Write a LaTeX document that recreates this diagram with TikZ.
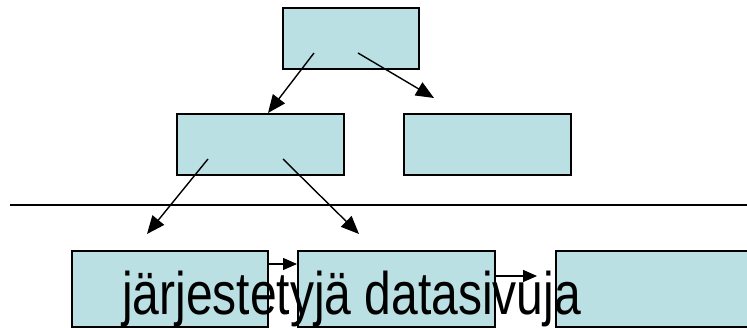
\documentclass[tikz,border=0pt]{standalone}
\usepackage{fontspec}
\usepackage{graphicx}
\setmainfont{Liberation Sans}
\usetikzlibrary{arrows.meta}
\definecolor{boxfill}{RGB}{187,224,227}
\tikzset{
  pagebox/.style={draw=black, fill=boxfill, line width=1.5pt, inner sep=0pt},
  link/.style={line width=1.4pt, -{Triangle[length=18pt,width=15pt]}},
  smalllink/.style={line width=1.4pt, -{Triangle[length=14pt,width=12pt]}}
}
\begin{document}
\begin{tikzpicture}[x=1pt,y=-1pt]
\useasboundingbox (0,0) rectangle (747,328);
% boxes
\node[pagebox, minimum width=136pt, minimum height=61pt] (top) at (351,38.5) {};
\node[pagebox, minimum width=167pt, minimum height=61pt] (ml) at (260.5,144.5) {};
\node[pagebox, minimum width=167pt, minimum height=61pt] (mr) at (487.5,144.5) {};
\node[pagebox, minimum width=196pt, minimum height=76pt] (b1) at (170,289) {};
\node[pagebox, minimum width=197pt, minimum height=76pt] (b2) at (396.5,289) {};
\node[pagebox, minimum width=200pt, minimum height=76pt] (b3) at (656,289) {};
% separator line
\coordinate (lineL) at (10,205);
\coordinate (lineR) at (747,205);
\draw[line width=1.2pt] (lineL) -- (lineR);
% arrow endpoints
\coordinate (s1) at (314,53);
\coordinate (e1) at (268,113);
\coordinate (s2) at (358,53);
\coordinate (e2) at (434,98);
\coordinate (s3) at (208,159);
\coordinate (e3) at (147,234);
\coordinate (s4) at (283,159);
\coordinate (e4) at (359,234);
\coordinate (s5) at (268,264);
\coordinate (e5) at (297,264);
\coordinate (s6) at (495,276);
\coordinate (e6) at (537,276);
\draw[link] (s1) -- (e1);
\draw[link] (s2) -- (e2);
\draw[link] (s3) -- (e3);
\draw[link] (s4) -- (e4);
\draw[smalllink] (s5) -- (e5);
\draw[smalllink] (s6) -- (e6);
% label
\node[anchor=base west, inner sep=0pt] (lbl) at (122,315) {\scalebox{0.8}[1]{\fontsize{60}{70}\selectfont järjestetyjä datasivuja}};
\end{tikzpicture}
\end{document}
